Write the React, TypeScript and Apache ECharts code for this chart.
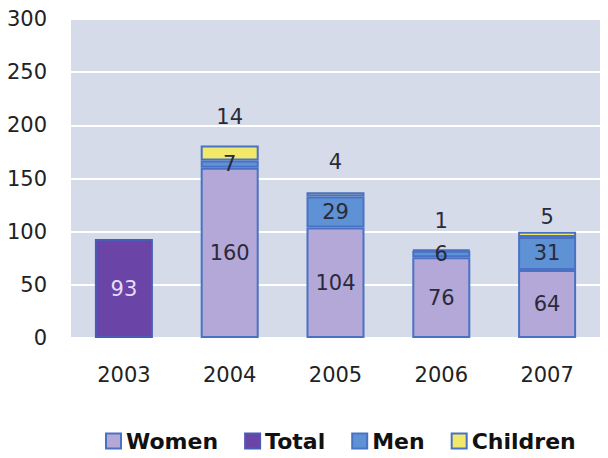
import React, { useEffect, useRef } from "react";
import * as echarts from "echarts";

const years = ["2003", "2004", "2005", "2006", "2007"];
const totalVals: (number | null)[] = [93, null, null, null, null];
const womenVals: (number | null)[] = [null, 160, 104, 76, 64];
const menVals: (number | null)[] = [null, 7, 29, 6, 31];
const childrenVals: (number | null)[] = [null, 14, 4, 1, 5];
const legendNames = ["Women", "Total", "Men", "Children"];

const FONT = "DejaVu Sans";
const BORDER = "#4a72c4";

export default function App() {
  const ref = useRef<HTMLDivElement>(null);
  useEffect(() => {
    if (!ref.current) return;
    const chart = echarts.init(ref.current, null, { renderer: "svg" });
    const toData = (arr: (number | null)[]) => arr.map((v) => (v == null ? "-" : v));
    const childDist = [0, 18, 20, 18, 4];
    chart.setOption({
      animation: false,
      backgroundColor: "#ffffff",
      grid: {
        left: 71,
        right: 8,
        top: 19,
        bottom: 120,
        show: true,
        backgroundColor: "#d5dbe8",
        borderWidth: 0,
      },
      legend: {
        data: legendNames,
        icon: "rect",
        left: 100,
        top: 425,
        itemWidth: 15,
        itemHeight: 15,
        itemGap: 26,
        textStyle: { fontFamily: FONT, fontWeight: "bold", fontSize: 22, color: "#111111" },
      },
      xAxis: {
        type: "category",
        data: years,
        axisLine: { show: false },
        axisTick: { show: false },
        axisLabel: { fontFamily: FONT, fontSize: 21, color: "#222222", margin: 26 },
      },
      yAxis: {
        type: "value",
        min: 0,
        max: 300,
        interval: 50,
        axisLine: { show: false },
        axisTick: { show: false },
        splitLine: { lineStyle: { color: "#ffffff", width: 2 } },
        axisLabel: { fontFamily: FONT, fontSize: 21, color: "#222222", margin: 24 },
      },
      series: [
        {
          name: "Women",
          type: "bar",
          stack: "a",
          barWidth: 58,
          data: toData(womenVals),
          itemStyle: { color: "#b4a8d8", borderColor: BORDER, borderWidth: 2 },
          label: { show: true, position: "inside", fontFamily: FONT, fontSize: 21, color: "#2a2a3a" },
        },
        {
          name: "Total",
          type: "bar",
          stack: "a",
          barWidth: 58,
          data: toData(totalVals),
          itemStyle: { color: "#6a44a6", borderColor: "#4a5cb4", borderWidth: 2 },
          label: { show: true, position: "inside", fontFamily: FONT, fontSize: 21, color: "#e6dcf6" },
        },
        {
          name: "Men",
          type: "bar",
          stack: "a",
          barWidth: 58,
          data: toData(menVals),
          itemStyle: { color: "#5e92d4", borderColor: BORDER, borderWidth: 2 },
          label: { show: true, position: "inside", fontFamily: FONT, fontSize: 21, color: "#2a2a3a" },
        },
        {
          name: "Children",
          type: "bar",
          stack: "a",
          barWidth: 58,
          data: childrenVals.map((v, i) =>
            v == null
              ? "-"
              : { value: v, label: { distance: childDist[i] } }
          ),
          itemStyle: { color: "#f2e96a", borderColor: BORDER, borderWidth: 2 },
          label: { show: true, position: "top", fontFamily: FONT, fontSize: 21, color: "#2a2a3a" },
        },
      ],
    });
    return () => chart.dispose();
  }, []);
  return (
    <div
      ref={ref}
      style={{ position: "fixed", left: 0, top: 0, width: 608, height: 458 }}
    />
  );
}
